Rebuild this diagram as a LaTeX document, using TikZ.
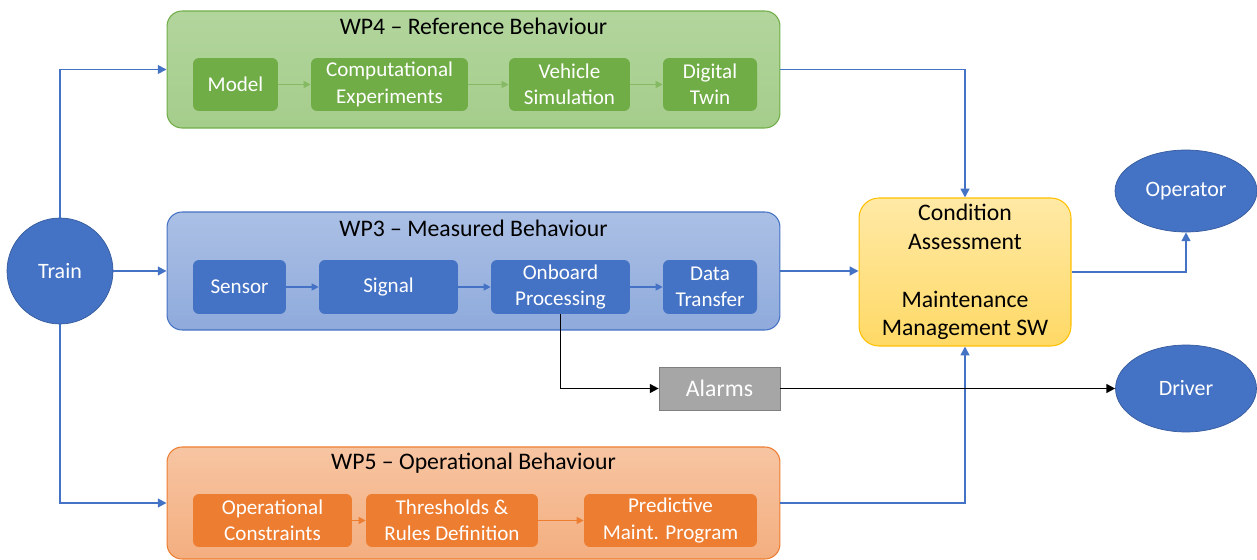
\documentclass[tikz,border=0pt]{standalone}
\usepackage{fontspec}
\setmainfont{Carlito}
\usepackage{xcolor}
\usepackage{tikz}
\usetikzlibrary{shapes, arrows.meta, positioning, calc}

\definecolor{wpblue}{HTML}{4472C4}
\definecolor{wpgreen}{HTML}{70AD47}
\definecolor{wporange}{HTML}{ED7D31}
\definecolor{condline}{HTML}{FFC000}
\definecolor{greentop}{HTML}{B2D59D}
\definecolor{greenbot}{HTML}{A5CD8B}

\tikzset{
  outerbox/.style={draw, rounded corners=0.3cm, line width=0.6pt},
  innerbox/.style={rounded corners=0.12cm, text=white, align=center,
    font=\fontsize{12}{15}\selectfont, inner sep=0pt},
  wptitle/.style={font=\fontsize{13.5}{16}\selectfont},
  flow/.style={draw=wpblue, line width=1pt, -{Triangle[length=5pt,width=5pt]}},
  innerflow/.style={line width=0.6pt, -{Triangle[length=4pt,width=4pt]}},
  alarmflow/.style={draw=black, line width=1pt, -{Triangle[length=5pt,width=5pt]}},
  actor/.style={ellipse, fill=wpblue, draw=wpblue!80!black, line width=0.4pt,
    text=white, inner sep=0pt, font=\fontsize{12.5}{15}\selectfont}
}

\begin{document}
\begin{tikzpicture}[x=0.02cm, y=-0.02cm]
  \useasboundingbox (0,0) rectangle (1257,560);

  % Train
  \node[actor, circle, minimum size=2.12cm] (train) at (60,271) {Train};

  % WP4 - reference behaviour
  \node[outerbox, draw=wpgreen, top color=greentop, bottom color=greenbot,
    minimum width=12.26cm, minimum height=2.34cm] (wp4) at (473.5,69.5) {};
  \node[wptitle] (wp4title) at (473.5,26) {WP4 -- Reference Behaviour};
  \node[innerbox, fill=wpgreen, minimum width=1.70cm, minimum height=1.06cm] (model) at (235.5,84.5) {Model};
  \node[innerbox, fill=wpgreen, minimum width=3.14cm, minimum height=1.06cm] (compexp) at (389.5,84.5) {Computational\\Experiments};
  \node[innerbox, fill=wpgreen, minimum width=2.42cm, minimum height=1.06cm] (vehsim) at (569.5,84.5) {Vehicle\\Simulation};
  \node[innerbox, fill=wpgreen, minimum width=1.88cm, minimum height=1.06cm] (twin) at (710,84.5) {Digital\\Twin};
  \draw[innerflow, draw=wpgreen!85!white] (model) -- (compexp);
  \draw[innerflow, draw=wpgreen!85!white] (compexp) -- (vehsim);
  \draw[innerflow, draw=wpgreen!85!white] (vehsim) -- (twin);

  % WP3 - measured behaviour
  \node[outerbox, draw=wpblue, top color=wpblue!45!white,
    bottom color=wpblue!60!white, minimum width=12.26cm, minimum height=2.36cm]
    (wp3) at (473.5,271) {};
  \node[wptitle] (wp3title) at (473.5,228) {WP3 -- Measured Behaviour};
  \node[innerbox, fill=wpblue, minimum width=1.86cm, minimum height=1.08cm] (sensor) at (239.5,287) {Sensor};
  \node[innerbox, fill=wpblue, minimum width=2.78cm, minimum height=1.08cm] (signal) at (388.5,287) {Signal};
  \node[innerbox, fill=wpblue, minimum width=2.78cm, minimum height=1.08cm] (onboard) at (560.5,287) {Onboard\\Processing};
  \node[innerbox, fill=wpblue, minimum width=1.88cm, minimum height=1.08cm] (datatr) at (710,287) {Data\\Transfer};
  \draw[innerflow, draw=wpblue] (sensor) -- (signal);
  \draw[innerflow, draw=wpblue] (signal) -- (onboard);
  \draw[innerflow, draw=wpblue] (onboard) -- (datatr);

  % WP5 - operational behaviour
  \node[outerbox, draw=wporange, top color=wporange!45!white,
    bottom color=wporange!62!white, minimum width=12.26cm, minimum height=2.24cm]
    (wp5) at (473.5,503) {};
  \node[wptitle] (wp5title) at (473.5,463) {WP5 -- Operational Behaviour};
  \node[innerbox, fill=wporange, minimum width=3.18cm, minimum height=1.06cm] (opcon) at (272.5,520.5) {Operational\\Constraints};
  \node[innerbox, fill=wporange, minimum width=3.44cm, minimum height=1.06cm] (thresh) at (452,520.5) {Thresholds \&\\Rules Definition};
  \node[innerbox, fill=wporange, minimum width=3.46cm, minimum height=1.06cm] (predict) at (670.5,520.5) {Predictive\\Maint. Program};
  \draw[innerflow, draw=wporange] (opcon) -- (thresh);
  \draw[innerflow, draw=wporange] (thresh) -- (predict);

  % condition assessment, alarms and actors
  \node[draw=condline, line width=0.6pt, rounded corners=0.4cm,
    top color=condline!35!white, bottom color=condline!60!white,
    minimum width=4.24cm, minimum height=2.96cm, align=center,
    font=\fontsize{13.5}{16.4}\selectfont] (cond) at (965,272)
    {Condition\\Assessment\\[16.4pt]Maintenance\\Management SW};
  \node[draw=black!50, fill=black!35, text=white, minimum width=2.42cm,
    minimum height=0.86cm, font=\fontsize{13.5}{16}\selectfont] (alarms) at (719.5,388.5) {Alarms};
  \node[actor, minimum width=2.84cm, minimum height=1.64cm] (operator) at (1186,191) {Operator};
  \node[actor, minimum width=2.82cm, minimum height=1.74cm] (driver) at (1186,388.5) {Driver};

  % connectors
  \draw[flow] (train.north) |- (wp4.west);
  \draw[flow] (train.east) -- (train.east -| wp3.west);
  \draw[flow] (train.south) |- (wp5.west);
  \draw[flow] (wp4.east) -| (cond.north);
  \draw[flow] (wp3.east) -- (wp3.east -| cond.west);
  \draw[flow] (wp5.east) -| (cond.south);
  \draw[flow] (cond.east) -| (operator.south);
  \draw[alarmflow] (onboard.south) |- (alarms.west);
  \draw[alarmflow] (alarms.east) -- (driver.west);
\end{tikzpicture}
\end{document}
